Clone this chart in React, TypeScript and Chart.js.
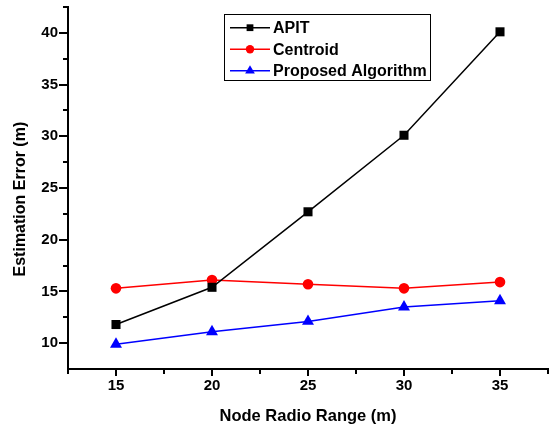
import React, { useEffect, useRef } from 'react';
import { Chart, registerables } from 'chart.js';

Chart.register(...registerables);

// ---- data ----
const xValues = [15, 20, 25, 30, 35];
const apitValues = [11.8, 15.4, 22.7, 30.1, 40.1];
const centroidValues = [15.3, 16.1, 15.7, 15.3, 15.9];
const proposedValues = [9.9, 11.1, 12.1, 13.5, 14.1];
const seriesNames = ['APIT', 'Centroid', 'Proposed Algorithm'];
const xMajorTicks = [15, 20, 25, 30, 35];
const yMajorTicks = [10, 15, 20, 25, 30, 35, 40];
const xMinorTicks = [12.5, 17.5, 22.5, 27.5, 32.5, 37.5];
const yMinorTicks = [12.5, 17.5, 22.5, 27.5, 32.5, 37.5, 42.5];
const xTitle = 'Node Radio Range (m)';
const yTitle = 'Estimation Error (m)';

const FONT = '"Liberation Sans", Arial, Helvetica, sans-serif';

const seriesStyles = [
  { color: '#000000', pointStyle: 'rect', radius: 6.4, legendRadius: 4.8 },
  { color: '#ff0000', pointStyle: 'circle', radius: 5.3, legendRadius: 4.2 },
  { color: '#0000ff', pointStyle: 'triangle', radius: 6.9, legendRadius: 5.6 },
];

function drawMarker(ctx: CanvasRenderingContext2D, style: string, x: number, y: number, r: number) {
  ctx.beginPath();
  if (style === 'rect') {
    const s = Math.SQRT1_2 * r;
    ctx.rect(x - s, y - s, 2 * s, 2 * s);
  } else if (style === 'circle') {
    ctx.arc(x, y, r, 0, Math.PI * 2);
  } else {
    let rad = 0;
    ctx.moveTo(x + Math.sin(rad) * r, y - Math.cos(rad) * r);
    rad += (2 * Math.PI) / 3;
    ctx.lineTo(x + Math.sin(rad) * r, y - Math.cos(rad) * r);
    rad += (2 * Math.PI) / 3;
    ctx.lineTo(x + Math.sin(rad) * r, y - Math.cos(rad) * r);
    ctx.closePath();
  }
  ctx.fill();
}

const zeroPadding = () => ({ left: 0, top: 0, right: 0, bottom: 0 });

const minorTickPlugin = {
  id: 'minorTicks',
  afterDraw(chart: any) {
    const { ctx, chartArea, scales } = chart;
    ctx.save();
    ctx.strokeStyle = '#000';
    ctx.lineWidth = 2;
    ctx.beginPath();
    xMinorTicks.forEach((v) => {
      const px = Math.round(scales.x.getPixelForValue(v));
      ctx.moveTo(px, chartArea.bottom);
      ctx.lineTo(px, chartArea.bottom + 5);
    });
    yMinorTicks.forEach((v) => {
      const py = Math.round(scales.y.getPixelForValue(v));
      ctx.moveTo(chartArea.left - 5, py);
      ctx.lineTo(chartArea.left, py);
    });
    ctx.stroke();
    ctx.restore();
  },
};

const boxLegendPlugin = {
  id: 'boxLegend',
  afterDraw(chart: any) {
    const { ctx } = chart;
    const left = 224.5;
    const top = 14.5;
    const width = 206;
    const height = 66;
    const rows = [27.7, 49.3, 70.8];
    ctx.save();
    ctx.fillStyle = '#fff';
    ctx.fillRect(left, top, width, height);
    ctx.strokeStyle = '#000';
    ctx.lineWidth = 1;
    ctx.strokeRect(left, top, width, height);
    chart.data.datasets.forEach((ds: any, i: number) => {
      const y = rows[i];
      const st = seriesStyles[i];
      ctx.strokeStyle = st.color;
      ctx.lineWidth = 1.5;
      ctx.beginPath();
      ctx.moveTo(230, y);
      ctx.lineTo(270, y);
      ctx.stroke();
      ctx.fillStyle = st.color;
      drawMarker(ctx, st.pointStyle, 250, y, st.legendRadius);
      ctx.fillStyle = '#000';
      ctx.font = `bold 16px ${FONT}`;
      ctx.textAlign = 'left';
      ctx.textBaseline = 'middle';
      ctx.fillText(ds.label, 273, y + 1);
    });
    ctx.restore();
  },
};

const seriesValues = [apitValues, centroidValues, proposedValues];

export default function App() {
  const canvasRef = useRef<HTMLCanvasElement>(null);

  useEffect(() => {
    const canvas = canvasRef.current;
    if (!canvas) return;
    const chart = new Chart(canvas, {
      type: 'line',
      data: {
        datasets: seriesValues.map((vals, i) => ({
          label: seriesNames[i],
          data: xValues.map((x, j) => ({ x, y: vals[j] })),
          borderColor: seriesStyles[i].color,
          backgroundColor: seriesStyles[i].color,
          pointBackgroundColor: seriesStyles[i].color,
          pointBorderColor: seriesStyles[i].color,
          pointBorderWidth: 0,
          pointStyle: seriesStyles[i].pointStyle as any,
          pointRadius: seriesStyles[i].radius,
          borderWidth: 1.5,
          tension: 0,
          fill: false,
        })),
      },
      options: {
        animation: false,
        responsive: false,
        devicePixelRatio: 1,
        layout: { autoPadding: false, padding: { top: 7, right: 1, left: 0, bottom: 0 } },
        plugins: {
          legend: { display: false },
          tooltip: { enabled: false },
        },
        scales: {
          x: {
            type: 'linear',
            min: 12.5,
            max: 37.5,
            afterBuildTicks: (s: any) => {
              s.ticks = xMajorTicks.map((v) => ({ value: v }));
            },
            afterFit: (s: any) => {
              s.height = 57;
              s.paddingLeft = 0;
              s.paddingRight = 0;
              s.paddingTop = 0;
              s.paddingBottom = 0;
              s.getPadding = zeroPadding;
            },
            ticks: {
              color: '#000',
              font: { family: FONT, size: 15, weight: 'bold' },
              padding: 1,
              maxRotation: 0,
              autoSkip: false,
            },
            grid: {
              drawOnChartArea: false,
              drawTicks: true,
              tickLength: 7,
              lineWidth: 2,
              color: '#000',
            },
            border: { display: true, color: '#000', width: 2 },
            title: {
              display: true,
              text: xTitle,
              color: '#000',
              font: { family: FONT, size: 16.5, weight: 'bold' },
              padding: { top: 1, bottom: 0 },
            },
          },
          y: {
            type: 'linear',
            min: 7.5,
            max: 42.5,
            afterBuildTicks: (s: any) => {
              s.ticks = yMajorTicks.map((v) => ({ value: v }));
            },
            afterFit: (s: any) => {
              s.width = 68;
              s.paddingLeft = 0;
              s.paddingRight = 0;
              s.paddingTop = 0;
              s.paddingBottom = 0;
              s.getPadding = zeroPadding;
            },
            ticks: {
              color: '#000',
              font: { family: FONT, size: 15, weight: 'bold' },
              padding: 1,
              autoSkip: false,
            },
            grid: {
              drawOnChartArea: false,
              drawTicks: true,
              tickLength: 9,
              lineWidth: 2,
              color: '#000',
            },
            border: { display: true, color: '#000', width: 2 },
            title: {
              display: true,
              text: yTitle + '     ',
              color: '#000',
              font: { family: FONT, size: 16, weight: 'bold' },
              padding: { top: 11.4, bottom: 0 },
            },
          },
        },
      } as any,
      plugins: [minorTickPlugin, boxLegendPlugin],
    });
    return () => chart.destroy();
  }, []);

  return (
    <div style={{ position: 'fixed', left: 0, top: 0, width: 549, height: 426, background: '#fff' }}>
      <canvas ref={canvasRef} width={549} height={426} style={{ display: 'block', width: 549, height: 426 }} />
    </div>
  );
}
